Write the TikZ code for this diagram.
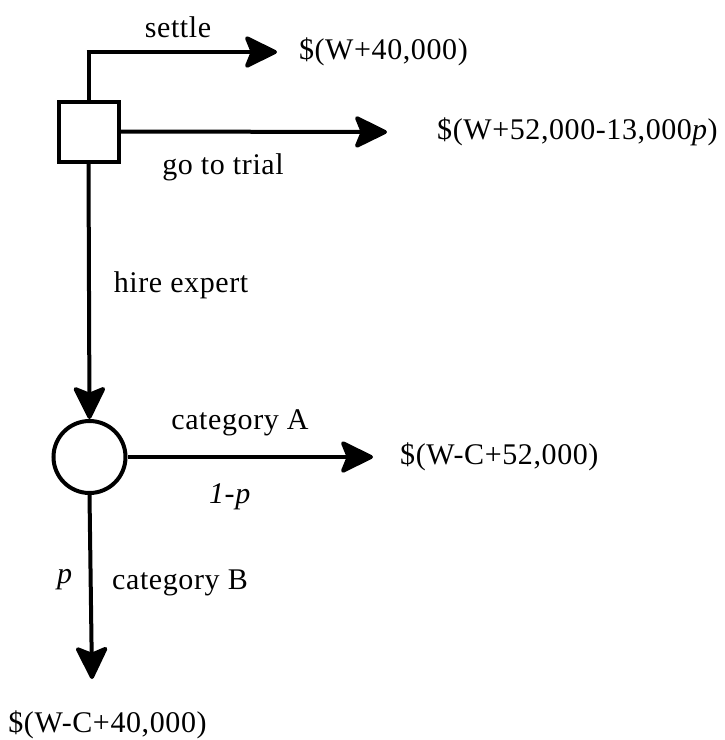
\documentclass[tikz,border=0pt]{standalone}
\usepackage{fontspec}
\setmainfont{Liberation Serif}
\newfontfamily\reffont[LetterSpace=2.0]{Liberation Serif}
\usetikzlibrary{arrows.meta}
\tikzset{
  conn/.style={line width=4pt, -{Stealth[length=36pt,width=35pt,inset=7pt,round]}},
  plain/.style={line width=4pt},
  lbl/.style={inner sep=0pt, font=\reffont\fontsize{30}{34}\selectfont},
  payoff/.style={inner sep=0pt, font=\reffont\fontsize{30}{34}\selectfont},
  decbox/.style={draw, line width=4pt, minimum size=60pt, inner sep=0pt},
  chancenode/.style={draw, circle, line width=4pt, minimum size=72pt, inner sep=0pt}
}
\begin{document}
\begin{tikzpicture}[x=1pt,y=-1pt]
\useasboundingbox (0,0) rectangle (724,740);
% nodes
\node[decbox] (d) at (88.5,131.5) {};
\node[chancenode] (c) at (89.5,457) {};
\coordinate (corner) at (88.5,52);
\coordinate (sEnd) at (277,52);
\coordinate (tEnd) at (387,132);
\coordinate (aEnd) at (373,457);
\coordinate (bEnd) at (92,679);
% payoffs
\node[payoff, anchor=east] (ps) at (468,52) {\$(W+40,000)};
\node[payoff, anchor=west] (pt) at (437,132) {\$(W+52,000-13,000\textit{p})};
\node[payoff, anchor=west] (pa) at (400,457) {\$(W-C+52,000)};
\node[payoff] (pb) at (107.5,725) {\$(W-C+40,000)};
% labels
\node[lbl] (lsettle) at (178,27) {settle};
\node[lbl] (ltrial) at (223,167) {go to trial};
\node[lbl] (lhire) at (181,285) {hire expert};
\node[lbl] (lcatA) at (240,423) {category A};
\node[lbl] (lqA) at (230,497) {\textit{1-p}};
\node[lbl] (lp) at (65,580) {\textit{p}};
\node[lbl] (lcatB) at (180,583) {category B};
% connectors
\draw[plain] (d.north) -- (corner);
\draw[conn] ([xshift=-2pt]corner) -- (sEnd);
\draw[conn] (d.east) -- (tEnd);
\draw[conn] (d.south) -- (c.north);
\draw[conn] (c.east) -- (aEnd);
\draw[conn] (c.south) -- (bEnd);
\end{tikzpicture}
\end{document}
